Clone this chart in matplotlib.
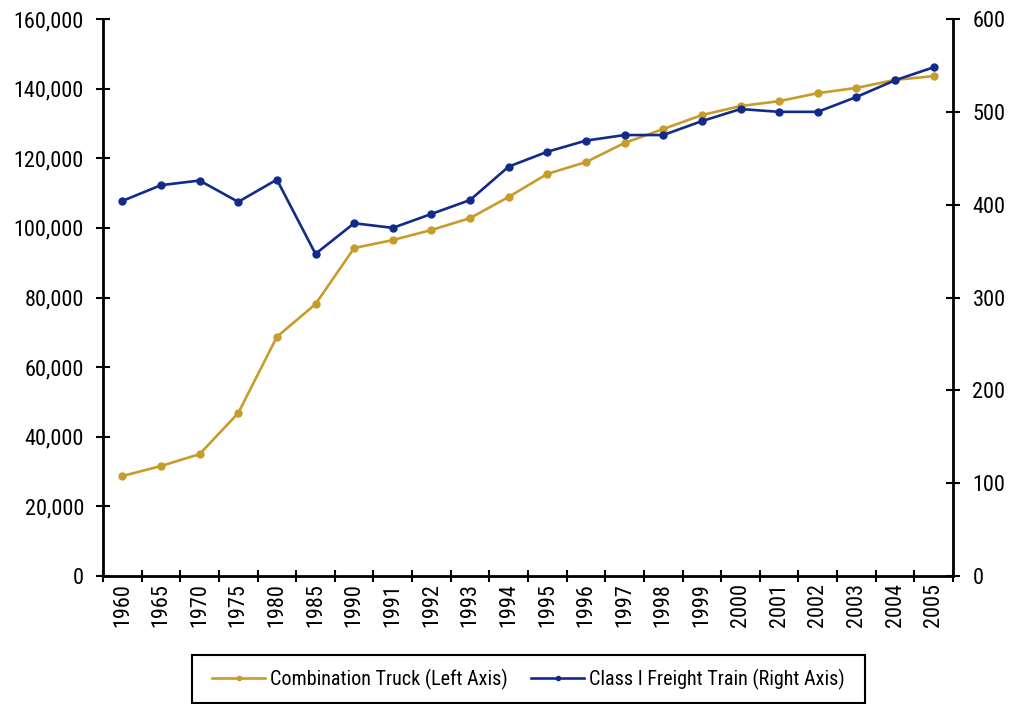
import matplotlib
matplotlib.use("Agg")
import matplotlib.pyplot as plt
import numpy as np
from matplotlib.ticker import FuncFormatter, FixedLocator
from matplotlib.patches import Rectangle

plt.rcParams['font.family'] = ['Roboto Condensed', 'Liberation Sans', 'DejaVu Sans']

years = ["1960", "1965", "1970", "1975", "1980", "1985", "1990", "1991", "1992", "1993",
         "1994", "1995", "1996", "1997", "1998", "1999", "2000", "2001", "2002", "2003",
         "2004", "2005"]
truck = [28700, 31600, 35000, 46800, 68700, 78100, 94200, 96500, 99400, 102800,
         108900, 115500, 118900, 124400, 128400, 132400, 135000, 136400, 138700, 140200,
         142500, 143600]
train = [404, 421, 426, 403, 427, 347, 380, 375, 390, 405,
         441, 457, 469, 475, 475, 490, 503, 500, 500, 516,
         534, 548]

gold = "#C89C2A"
navy = "#122A8A"
fs = 16
W, H = 1014, 704

fig = plt.figure(figsize=(W / 100, H / 100), dpi=100)
ax = fig.add_axes([103/W, 128/H, 850/W, 557/H])
ax2 = ax.twinx()

x = np.arange(len(years))
l1, = ax.plot(x, truck, color=gold, lw=1.9, marker='o', ms=5, label="Combination Truck (Left Axis)")
l2, = ax2.plot(x, train, color=navy, lw=1.9, marker='o', ms=5, label="Class I Freight Train (Right Axis)")

ax.set_xlim(-0.5, len(years) - 0.5)
ax.set_ylim(0, 160000)
ax2.set_ylim(0, 600)
ax.set_yticks(np.arange(0, 160001, 20000))
ax2.set_yticks(np.arange(0, 601, 100))
ax.yaxis.set_major_formatter(FuncFormatter(lambda v, p: f"{int(v):,}"))

ax.set_xticks(x)
ax.set_xticklabels(years, rotation=90)
ax.xaxis.set_minor_locator(FixedLocator(np.arange(-0.5, len(years), 1.0)))
ax.tick_params(axis='x', which='major', length=0, pad=5, labelsize=fs)
ax.tick_params(axis='x', which='minor', length=9, width=1.5, direction='inout')
ax.tick_params(axis='y', length=9.5, width=1.5, direction='inout', labelsize=fs, pad=9)
ax2.tick_params(axis='y', length=10, width=1.5, direction='inout', labelsize=fs, pad=9)

for a in (ax, ax2):
    a.spines['top'].set_visible(False)
    for s in ('left', 'right', 'bottom'):
        a.spines[s].set_linewidth(2)
ax.spines['right'].set_visible(False)
ax2.spines['left'].set_visible(False)
ax2.spines['bottom'].set_visible(False)

# legend frame drawn as a box in figure pixels
fig.patches.append(Rectangle((192/W, 1 - 703/H), (865 - 192)/W, (703 - 655)/H,
                             transform=fig.transFigure, fill=False,
                             edgecolor='black', linewidth=1.5))
leg = fig.legend(handles=[l1, l2], loc='center', bbox_to_anchor=(528.5/W, 1 - 679/H),
                 ncol=2, frameon=False, fontsize=14.5,
                 handlelength=2.63, handletextpad=0.25, columnspacing=1.15,
                 borderpad=0, borderaxespad=0, markerscale=0.6)

fig.savefig("out.png", dpi=100)
